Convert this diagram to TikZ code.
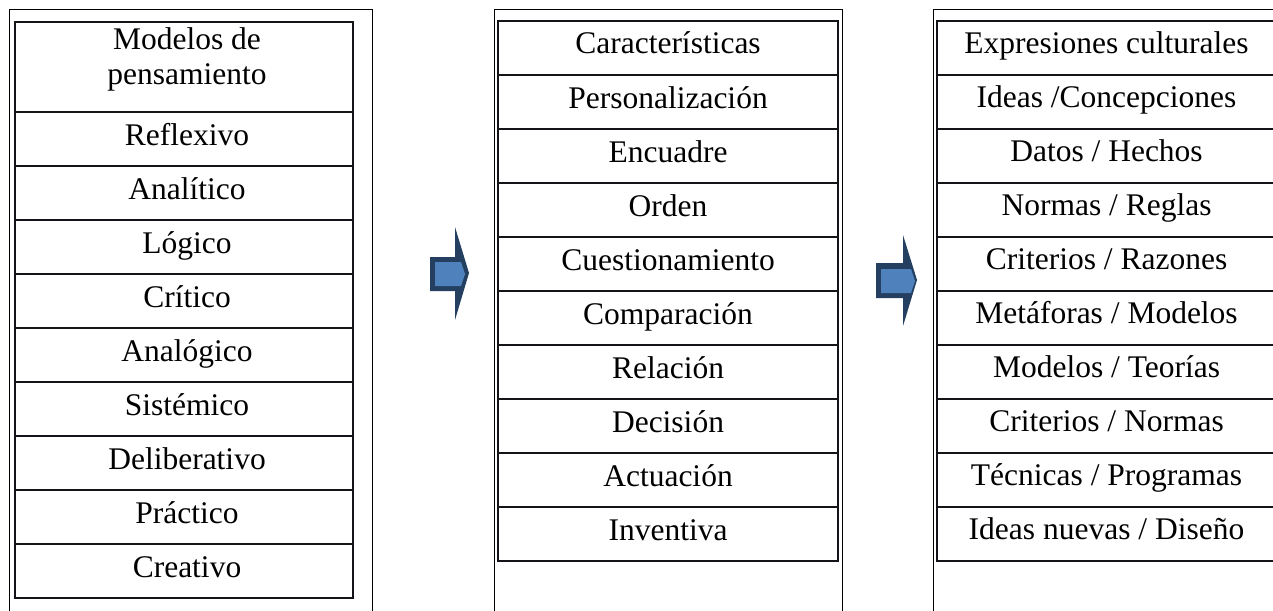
\documentclass[tikz,border=0pt]{standalone}
\usepackage{fontspec}
\setmainfont{Liberation Serif}
\definecolor{arrowfill}{HTML}{4F81BD}
\definecolor{arrowline}{HTML}{243F60}
\definecolor{rulecol}{HTML}{141418}
\begin{document}
\begin{tikzpicture}[x=1pt,y=-1pt,
  cell/.style={draw=rulecol, line width=2.8pt, minimum width=#1, minimum height=54pt,
               inner sep=0pt, outer sep=0pt, anchor=north},
  txt/.style={font=\fontsize{31.5}{34}\selectfont, anchor=base, inner sep=0pt},
  frame/.style={draw=black, line width=1pt},
  arrowdark/.style={fill=arrowline},
  arrowlight/.style={fill=arrowfill}]
\clip (0,0) rectangle (1273,610);
\fill[white] (0,0) rectangle (1273,610);
% outer frames
\draw[frame] (9,10) rectangle (372,640);
\draw[frame] (494,10) rectangle (842,640);
\draw[frame] (933,10) rectangle (1300,640);
% left table
\node[cell=338pt, minimum height=90pt] (L0) at (184,22) {};
\node[txt, align=center] (L0t) at ([xshift=3pt,yshift=-62pt]L0.north) {Modelos de\\pensamiento};
\foreach [count=\i] \t in {Reflexivo, Analítico, Lógico, Crítico, Analógico, Sistémico, Deliberativo, Práctico, Creativo} {
  \pgfmathtruncatemacro\j{\i-1}
  \node[cell=338pt] (L\i) at (L\j.south) {};
  \node[txt] (L\i t) at ([xshift=3pt,yshift=-33pt]L\i.north) {\t};
}
% middle table
\node[cell=340pt] (M0) at (668,21) {};
\node[txt] (M0t) at ([yshift=-33pt]M0.north) {Características};
\foreach [count=\i] \t in {Personalización, Encuadre, Orden, Cuestionamiento, Comparación, Relación, Decisión, Actuación, Inventiva} {
  \pgfmathtruncatemacro\j{\i-1}
  \node[cell=340pt] (M\i) at (M\j.south) {};
  \node[txt] (M\i t) at ([yshift=-33pt]M\i.north) {\t};
}
% right table
\node[cell=339pt] (R0) at (1106.5,21) {};
\node[txt] (R0t) at ([yshift=-32pt]R0.north) {Expresiones culturales};
\foreach [count=\i] \t in {Ideas /Concepciones, Datos / Hechos, Normas / Reglas, Criterios / Razones, Metáforas / Modelos, Modelos / Teorías, Criterios / Normas, Técnicas / Programas, Ideas nuevas / Diseño} {
  \pgfmathtruncatemacro\j{\i-1}
  \node[cell=339pt] (R\i) at (R\j.south) {};
  \node[txt] (R\i t) at ([yshift=-32pt]R\i.north) {\t};
}
% block arrows
\fill[arrowdark] (430,257) -- (455,257) -- (455,227) -- (469,273) -- (455,320) -- (455,291) -- (430,291) -- cycle;
\fill[arrowlight] (435,262) -- (461,262) -- (465,274) -- (461,286) -- (435,286) -- cycle;
\fill[arrowdark] (876,263) -- (903,263) -- (903,235) -- (917,280) -- (903,326) -- (903,298) -- (876,298) -- cycle;
\fill[arrowlight] (881,269) -- (911,269) -- (915,281) -- (911,293) -- (881,293) -- cycle;
\end{tikzpicture}
\end{document}
